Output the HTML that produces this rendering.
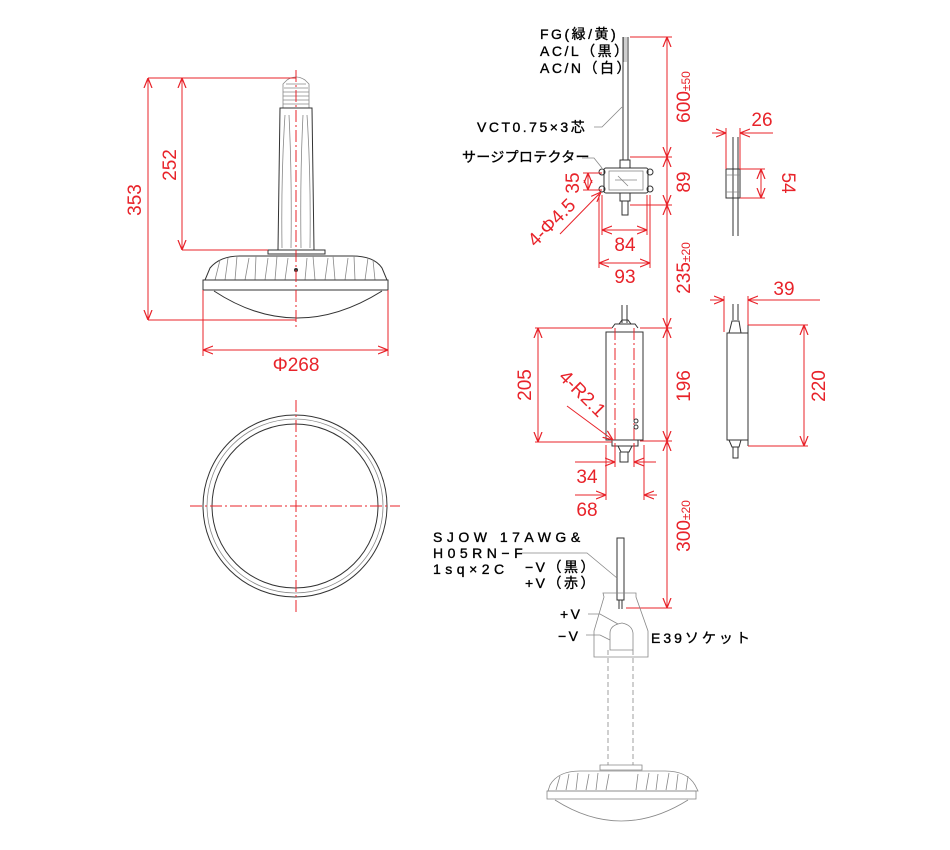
<!DOCTYPE html>
<html><head><meta charset="utf-8"><style>
html,body{margin:0;padding:0;background:#fff}
svg{display:block}
.r{stroke:#e8232a;stroke-width:1;fill:none}
.rt{fill:#e8232a;font-family:"Liberation Sans",sans-serif;font-size:19px}
.k{stroke:#333;stroke-width:1;fill:none}
.g{stroke:#888;stroke-width:0.8;fill:none}
.t{fill:#000;stroke:#000;stroke-width:0.35;font-family:"Liberation Sans","Noto Sans CJK JP",sans-serif;font-size:14px;letter-spacing:2.5px}
.cl{stroke:#e8232a;stroke-width:1;stroke-dasharray:12,3,2,3;fill:none}
</style></head><body>
<svg width="950" height="850" viewBox="0 0 950 850" xmlns="http://www.w3.org/2000/svg">
<defs>
<marker id="a" viewBox="0 0 10 10" refX="10" refY="5" markerWidth="10" markerHeight="10" markerUnits="userSpaceOnUse" orient="auto-start-reverse"><path d="M0,1 L10,5 L0,9" fill="none" stroke="#e8232a" stroke-width="1.2"/></marker>
</defs>

<!-- LEFT LAMP -->
<g>
<path class="g" d="M286,84 h20 M284,88 h24 M283,92 h26 M283,96 h26 M283,100 h26 M283,104 h26"/>
<path class="g" d="M287,80 q9,-6 18,0 l4,4 v24 h-26 v-24 z"/>
<path class="k" d="M280,108 h32 l2,142 h-36 z"/>
<path class="g" d="M285,115 q-4,60 -3,133 M307,115 q4,60 3,133 M289,115 q3,60 2,133 M303,115 q-3,60 -2,133"/>
<path class="k" d="M268,250 h57 v4 h-57 z"/>
<path class="k" d="M210,268 q10,-12 30,-12 h112 q22,0 30,12 l5,12 h-182 z"/>
<path class="g" d="M215,280 l5,-20 M225,280 l3,-22 M235,280 l2,-24 M245,280 l4,-22 M255,280 l1,-24 M265,280 l3,-22 M275,280 l2,-24 M285,280 l3,-22 M305,280 l2,-22 M315,280 l-2,-24 M325,280 l3,-22 M335,280 l-2,-24 M345,280 l3,-22 M355,280 l-1,-24 M365,280 l3,-22 M375,280 l-2,-20"/>
<rect class="k" x="203" y="280" width="185" height="10"/>
<path class="k" d="M214,291 Q296,345 382,291"/>
<circle cx="296" cy="270" r="2" fill="#333"/>
<line class="cl" x1="296" y1="70" x2="296" y2="330"/>
</g>
<!-- left dims -->
<path class="r" d="M148,78 H296 M148,320 H296 M182,250 H268 M203,290 V356 M388,290 V356"/>
<line class="r" x1="148" y1="78" x2="148" y2="320" marker-start="url(#a)" marker-end="url(#a)"/>
<line class="r" x1="182" y1="78" x2="182" y2="250" marker-start="url(#a)" marker-end="url(#a)"/>
<line class="r" x1="203" y1="350" x2="388" y2="350" marker-start="url(#a)" marker-end="url(#a)"/>
<text class="rt" transform="translate(141,200) rotate(-90)" text-anchor="middle">353</text>
<text class="rt" transform="translate(176,165) rotate(-90)" text-anchor="middle">252</text>
<text class="rt" x="296" y="371" text-anchor="middle">Φ268</text>

<!-- circle -->
<ellipse class="k" cx="295" cy="506" rx="92" ry="91"/>
<ellipse class="g" cx="295" cy="506" rx="88" ry="87"/>
<ellipse class="k" cx="295" cy="506" rx="83" ry="82"/>
<line class="cl" x1="190" y1="506" x2="400" y2="506"/>
<line class="cl" x1="296" y1="400" x2="296" y2="612"/>

<!-- RIGHT: top cable -->
<path class="k" d="M623,37 v123 M628,37 v123"/>
<path class="g" d="M624,37 v25 M626,37 v25"/>
<text class="t" x="540" y="39">FG(緑/黄)</text>
<text class="t" x="540" y="56">AC/L（黒）</text>
<text class="t" x="540" y="73">AC/N（白）</text>
<text class="t" x="477" y="132">VCT0.75×3芯</text>
<path class="g" d="M594,127 h8 l20,-20"/>
<text class="t" x="462" y="162" style="letter-spacing:0.3px">サージプロテクター</text>
<path class="g" d="M582,158 h12 l8,10"/>
<!-- surge protector -->
<path class="k" d="M620,160 h10 v8 h-10 z"/>
<rect class="k" x="604" y="168" width="44" height="25" rx="2"/>
<rect class="g" x="609" y="171" width="34" height="19"/>
<circle class="k" cx="602" cy="172" r="3"/><circle class="k" cx="650" cy="172" r="3"/>
<circle class="k" cx="602" cy="189" r="3"/><circle class="k" cx="650" cy="189" r="3"/>
<path class="g" d="M615,180 h22 M618,176 l10,10"/>
<path class="k" d="M620,193 h10 v8 h-10 z M622,201 v14 h6 v-14"/>
<!-- surge dims -->
<path class="r" d="M583,173 H602 M583,190 H602 M599,195 V268 M650,195 V268 M602,195 V235 M647,195 V235"/>
<line class="r" x1="588" y1="173" x2="588" y2="190" marker-start="url(#a)" marker-end="url(#a)"/>
<line class="r" x1="602" y1="230" x2="647" y2="230" marker-start="url(#a)" marker-end="url(#a)"/>
<line class="r" x1="599" y1="263" x2="650" y2="263" marker-start="url(#a)" marker-end="url(#a)"/>
<line class="r" x1="560" y1="234" x2="601" y2="192" marker-end="url(#a)"/>
<text class="rt" transform="translate(579,183) rotate(-90)" text-anchor="middle">35</text>
<text class="rt" x="625" y="251" text-anchor="middle">84</text>
<text class="rt" x="625" y="283" text-anchor="middle">93</text>
<text class="rt" transform="translate(556,227) rotate(-45)" text-anchor="middle">4-Φ4.5</text>

<!-- side surge -->
<path class="k" d="M733,137 v99 M738,137 v99"/>
<rect class="k" x="726" y="169" width="14" height="29"/>
<path class="g" d="M726,175 h14 M726,192 h14"/>
<path class="r" d="M726,128 V169 M740,128 V169 M740,169 H765 M740,198 H765"/>
<line class="r" x1="712" y1="133" x2="726" y2="133" marker-end="url(#a)"/>
<line class="r" x1="773" y1="133" x2="740" y2="133" marker-end="url(#a)"/>
<line class="r" x1="761" y1="169" x2="761" y2="198" marker-start="url(#a)" marker-end="url(#a)"/>
<text class="rt" x="762" y="126" text-anchor="middle">26</text>
<text class="rt" transform="translate(782,183) rotate(90)" text-anchor="middle">54</text>

<!-- main vertical dims -->
<path class="r" d="M630,37 H672 M630,157 H672 M630,205 H672 M640,328 H672 M640,441 H672 M626,608 H672"/>
<line class="r" x1="667" y1="37" x2="667" y2="157" marker-start="url(#a)" marker-end="url(#a)"/>
<line class="r" x1="667" y1="157" x2="667" y2="205" marker-start="url(#a)" marker-end="url(#a)"/>
<line class="r" x1="667" y1="205" x2="667" y2="328" marker-start="url(#a)" marker-end="url(#a)"/>
<line class="r" x1="667" y1="328" x2="667" y2="441" marker-start="url(#a)" marker-end="url(#a)"/>
<line class="r" x1="667" y1="441" x2="667" y2="608" marker-start="url(#a)" marker-end="url(#a)"/>
<text class="rt" transform="translate(690,97) rotate(-90)" text-anchor="middle">600<tspan font-size="12">±50</tspan></text>
<text class="rt" transform="translate(690,182) rotate(-90)" text-anchor="middle">89</text>
<text class="rt" transform="translate(690,268) rotate(-90)" text-anchor="middle">235<tspan font-size="12">±20</tspan></text>
<text class="rt" transform="translate(690,386) rotate(-90)" text-anchor="middle">196</text>
<text class="rt" transform="translate(690,526) rotate(-90)" text-anchor="middle">300<tspan font-size="12">±20</tspan></text>

<!-- driver front -->
<path class="k" d="M622,305 v18 M627,305 v18"/>
<path class="k" d="M612,328 l3,-4 h20 l3,4 M619,324 l3,-4 h6 l3,4"/>
<rect class="k" x="606" y="332" width="37" height="108"/>
<path class="k" d="M612,440 v6 h26 v-6 M618,446 l3,6 h8 l3,-6 M620,452 v10 h8 v-10"/>
<line class="cl" x1="615" y1="328" x2="615" y2="445"/>
<line class="cl" x1="634" y1="328" x2="634" y2="445"/>
<circle class="k" cx="636" cy="421" r="2"/><circle class="k" cx="636" cy="427" r="2"/>
<path class="r" d="M535,328 H612 M535,442 H612 M606,445 V500 M644,445 V500 M615,445 V467 M634,445 V467"/>
<line class="r" x1="538" y1="328" x2="538" y2="442" marker-start="url(#a)" marker-end="url(#a)"/>
<line class="r" x1="575" y1="462" x2="615" y2="462" marker-end="url(#a)"/>
<line class="r" x1="656" y1="462" x2="634" y2="462" marker-end="url(#a)"/>
<line class="r" x1="575" y1="495" x2="606" y2="495" marker-end="url(#a)"/>
<line class="r" x1="657" y1="495" x2="644" y2="495" marker-end="url(#a)"/>
<line class="r" x1="567" y1="406" x2="613" y2="440" marker-end="url(#a)"/>
<text class="rt" transform="translate(531,385) rotate(-90)" text-anchor="middle">205</text>
<text class="rt" transform="translate(578,398) rotate(45)" text-anchor="middle">4-R2.1</text>
<text class="rt" x="587" y="483" text-anchor="middle">34</text>
<text class="rt" x="587" y="516" text-anchor="middle">68</text>

<!-- driver side -->
<path class="k" d="M733,304 v16 M738,304 v16 M729,333 l3,-12 h7 l2,12"/>
<rect class="k" x="727" y="333" width="21" height="107"/>
<path class="k" d="M748,325 v121"/>
<path class="k" d="M729,440 l3,7 h7 l2,-7 M733,447 v11 h5 v-11"/>
<path class="r" d="M724,296 V332 M748,296 V325 M748,325 H808 M748,446 H808"/>
<line class="r" x1="710" y1="300" x2="724" y2="300" marker-end="url(#a)"/>
<line class="r" x1="820" y1="300" x2="748" y2="300" marker-end="url(#a)"/>
<line class="r" x1="804" y1="325" x2="804" y2="446" marker-start="url(#a)" marker-end="url(#a)"/>
<text class="rt" x="784" y="295" text-anchor="middle">39</text>
<text class="rt" transform="translate(825,386) rotate(-90)" text-anchor="middle">220</text>

<!-- bottom cable & socket -->
<path class="k" d="M617,538 v62 h7 v-62 z"/>
<path class="k" d="M619,600 v9 M622,600 v9"/>
<text class="t" x="433" y="542" style="letter-spacing:4.5px">SJOW 17AWG&amp;</text>
<text class="t" x="433" y="558" style="letter-spacing:4.5px">H05RN−F</text>
<text class="t" x="433" y="574" style="letter-spacing:4.5px">1sq×2C</text>
<text class="t" x="525" y="572">−V（黒）</text>
<text class="t" x="525" y="588">+V（赤）</text>
<path class="g" d="M522,553 h65 l30,25"/>
<path class="g" d="M603,593 h33 v4 l12,34 v26 h-54 v-26 l10,-34 z"/>
<path class="g" d="M610,633 q0,-8 12,-10 q10,2 11,10 v17 h-23 z"/>
<text class="t" x="560" y="619">+V</text>
<text class="t" x="558" y="641">−V</text>
<path class="g" d="M588,614 h12 l18,10 M586,635 h14 l10,5"/>
<text class="t" x="651" y="643" style="letter-spacing:3px">E39ソケット</text>
<path class="g" d="M608,650 v115 M633,650 v115" stroke-dasharray="5,3"/>
<path class="g" d="M600,765 h42 v5 h-42 z"/>
<path class="g" d="M550,785 q8,-14 30,-14 h85 q22,0 30,14 l3,6 h-150 z"/>
<path class="g" d="M556,790 l4,-14 M566,790 l3,-16 M576,790 l2,-17 M586,790 l3,-16 M596,790 l2,-17 M606,790 l3,-16 M636,790 l2,-16 M646,790 l3,-17 M656,790 l2,-16 M666,790 l3,-17 M676,790 l2,-16 M686,790 l2,-14"/>
<rect class="g" x="547" y="791" width="149" height="8"/>
<path class="g" d="M555,800 Q621,842 688,800"/>
</svg>
</body></html>
